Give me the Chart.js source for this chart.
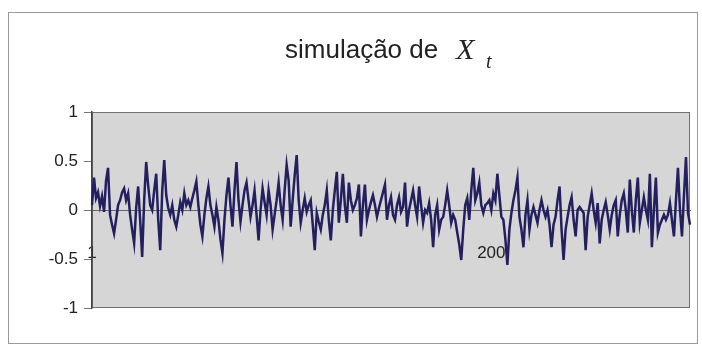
<!DOCTYPE html>
<html>
<head>
<meta charset="utf-8">
<script src="https://cdn.jsdelivr.net/npm/chart.js@4"></script>
<style>
  html, body { margin: 0; padding: 0; background: #fff; }
  #wrap { width: 702px; height: 347px; position: relative; }
</style>
</head>
<body>
<div id="wrap"><canvas id="grafico" width="702" height="347"></canvas></div>
<script>
// valores (série simulada X_t)
const xt = [
  0.05, 0.33, 0.12, 0.18, 0.04, 0.14, -0.02, 0.3, 0.43, -0.05,
  -0.15, -0.24, -0.1, 0.05, 0.1, 0.18, 0.22, 0.1, 0.17, -0.05,
  -0.2, -0.34, 0.02, 0.24, -0.1, -0.48, 0.1, 0.49, 0.25, 0.05,
  0.0, 0.2, 0.37, -0.1, -0.41, 0.2, 0.51, 0.15, 0.02, -0.05,
  0.05, -0.1, -0.17, -0.05, 0.08, 0.0, 0.17, 0.05, 0.1, 0.03,
  0.12, 0.2, 0.29, 0.05, -0.15, -0.27, -0.05, 0.12, 0.24, 0.05,
  -0.05, -0.17, 0.03, -0.1, -0.3, -0.44, -0.1, 0.15, 0.33, 0.05,
  -0.17, 0.2, 0.49, 0.1, -0.12, 0.05, 0.2, 0.28, 0.1, -0.07,
  0.05, 0.2, -0.05, -0.31, 0.0, 0.22, 0.08, -0.05, 0.2, 0.05,
  -0.2, -0.05, 0.1, 0.28, 0.05, -0.1, 0.2, 0.46, 0.3, -0.17,
  0.1, 0.35, 0.56, 0.1, -0.13, 0.0, 0.12, -0.02, 0.05, 0.1,
  -0.15, -0.41, -0.03, -0.12, -0.2, -0.05, 0.05, 0.2, -0.1, -0.31,
  0.0, 0.2, 0.39, -0.13, 0.1, 0.37, 0.05, -0.13, 0.28, 0.1,
  0.0, 0.05, 0.12, 0.26, -0.27, 0.05, 0.26, -0.1, 0.0, 0.08,
  0.15, 0.05, -0.07, 0.02, 0.1, 0.18, 0.26, -0.1, 0.05, 0.13,
  -0.05, -0.1, 0.05, 0.13, -0.02, 0.03, 0.28, -0.17, 0.0, 0.1,
  0.2, 0.05, -0.07, 0.24, 0.05, -0.13, 0.0, -0.03, 0.07, -0.1,
  -0.38, -0.05, 0.05, -0.2, -0.1, -0.07, 0.05, 0.2, 0.05, -0.13,
  -0.05, -0.1, -0.23, -0.35, -0.51, -0.2, 0.05, 0.12, -0.1, 0.2,
  0.43, 0.1, 0.17, 0.28, 0.05, -0.03, 0.05, 0.07, 0.1, 0.0,
  0.17, 0.1, 0.37, 0.15, -0.07, -0.1, -0.3, -0.56, -0.2, -0.03,
  0.1, 0.2, 0.33, -0.07, -0.2, -0.38, -0.05, 0.1, -0.2, -0.05,
  0.03, -0.05, -0.13, 0.0, 0.1, 0.0, -0.07, 0.0, -0.15, -0.38,
  -0.15, -0.07, 0.1, 0.24, -0.2, -0.51, -0.2, -0.07, 0.05, 0.13,
  -0.1, -0.27, 0.0, 0.03, 0.0, -0.03, -0.41, -0.07, 0.05, 0.17,
  0.0, -0.13, 0.07, -0.34, -0.1, 0.0, 0.08, -0.05, -0.2, -0.05,
  0.05, 0.1, -0.27, -0.05, 0.1, 0.17, 0.0, -0.23, 0.31, 0.0,
  -0.23, 0.1, 0.33, -0.13, 0.0, 0.13, 0.0, -0.1, 0.37, -0.38,
  0.0, 0.33, -0.23, -0.15, -0.1, -0.05, -0.1, -0.05, 0.07, -0.1,
  -0.27, 0.1, 0.43, 0.0, -0.27, 0.15, 0.54, -0.03, -0.15
];
const periodos = xt.map((_, i) => String(i + 1));
const rotulosX = ['1', '200'];
const ticksY = [1, 0.5, 0, -0.5, -1];

// fundo cinza da área de plotagem + moldura + título com X_t
const molduraPlugin = {
  id: 'moldura',
  beforeDraw(chart) {
    const { ctx, chartArea: a } = chart;
    ctx.save();
    ctx.fillStyle = '#fff';
    ctx.fillRect(0, 0, chart.width, chart.height);
    ctx.strokeStyle = '#9a9a9a';
    ctx.lineWidth = 1;
    ctx.strokeRect(8.5, 12.5, 689, 331);
    ctx.fillStyle = '#d6d6d6';
    ctx.fillRect(a.left, a.top, a.right - a.left, a.bottom - a.top);
    ctx.strokeStyle = '#707070';
    ctx.strokeRect(a.left + 0.5, a.top + 0.5, a.right - a.left - 1, a.bottom - a.top - 1);
    ctx.restore();
  },
  afterDraw(chart) {
    const { ctx } = chart;
    ctx.save();
    ctx.fillStyle = '#222';
    ctx.textBaseline = 'alphabetic';
    ctx.font = '26px "Liberation Sans", Arial, sans-serif';
    ctx.fillText('simulação de', 285, 58);
    ctx.font = 'italic 30px "Liberation Serif", "Times New Roman", serif';
    ctx.fillText('X', 456, 59);
    ctx.font = 'italic 20px "Liberation Serif", "Times New Roman", serif';
    ctx.fillText('t', 486, 68);
    ctx.restore();
  }
};

new Chart(document.getElementById('grafico'), {
  type: 'line',
  data: {
    labels: periodos,
    datasets: [{
      data: xt,
      borderColor: '#241f5f',
      borderWidth: 2.5,
      pointRadius: 0,
      tension: 0,
      fill: false
    }]
  },
  options: {
    responsive: false,
    animation: false,
    devicePixelRatio: 1,
    layout: { padding: { left: 0, top: 112, right: 12, bottom: 39 }, autoPadding: false },
    plugins: { legend: { display: false }, title: { display: false }, tooltip: { enabled: false } },
    scales: {
      x: {
        type: 'category',
        position: { y: 0 },
        offset: false,
        grid: { display: false },
        border: { display: true, color: '#666', width: 1 },
        afterFit(scale) { scale.paddingLeft = 0; scale.paddingRight = 0; },
        ticks: {
          autoSkip: false,
          maxRotation: 0,
          padding: 25,
          color: '#222',
          font: { family: '"Liberation Sans", Arial, sans-serif', size: 17 },
          callback(v, i) {
            const lab = periodos[i];
            return rotulosX.includes(lab) ? lab : '';
          }
        }
      },
      y: {
        min: -1,
        max: 1,
        afterFit(scale) { scale.width = 92; },
        afterBuildTicks(scale) { scale.ticks = ticksY.map(v => ({ value: v })); },
        grid: { drawOnChartArea: false, drawTicks: true, tickLength: 8, color: '#777' },
        border: { display: true, color: '#444', width: 1.5 },
        ticks: {
          padding: 6,
          color: '#222',
          font: { family: '"Liberation Sans", Arial, sans-serif', size: 17 },
          callback: v => String(v)
        }
      }
    }
  },
  plugins: [molduraPlugin]
});
</script>
</body>
</html>
